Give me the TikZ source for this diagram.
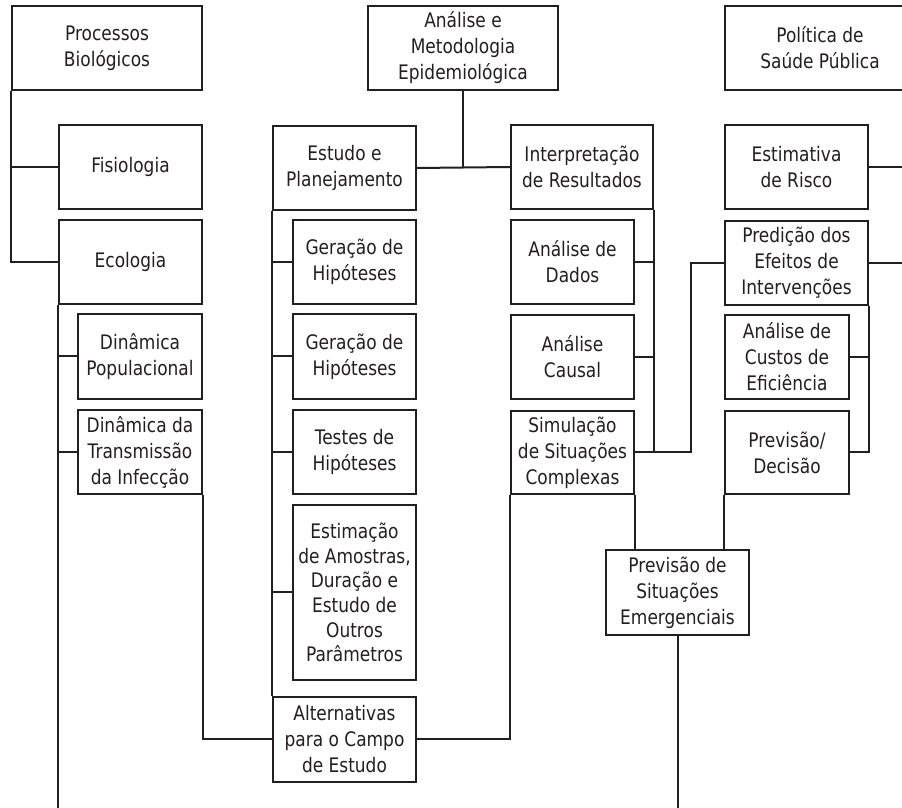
\documentclass[tikz,border=0pt]{standalone}
\usepackage{fontspec}
\setmainfont{DejaVu Sans}[FakeStretch=0.85]
\definecolor{tinta}{HTML}{231F20}
\begin{document}
\begin{tikzpicture}[x=0.5pt,y=-0.5pt,
    caixa/.style 2 args={draw=tinta, line width=1pt, fill=white, text=tinta, align=center,
        inner sep=0pt, minimum width=#1*0.5pt, minimum height=#2*0.5pt,
        font=\fontsize{10}{13}\selectfont},
    liga/.style={draw=tinta, line width=1pt}]
                %%% Page frame (the right column runs off the page)
                \useasboundingbox (0,0) rectangle (902,808);
                \clip (0,0) rectangle (902,808);
                \coordinate (base) at (0,812);
                \coordinate (borda) at (915,0);
                \coordinate (cotovelo) at (691,452.5);
                %%% Processos Biologicos column
                \node[caixa={190}{84}] (proc) at (107,48) {Processos\\Biológicos};
                \node[caixa={143}{84}] (fisio) at (130.5,167) {Fisiologia};
                \node[caixa={143}{84}] (ecol) at (130.5,262) {Ecologia};
                \node[caixa={124}{85}] (dinpop) at (140,356.5) {Dinâmica\\Populacional};
                \node[caixa={124}{84}] (dintrans) at (140,452) {Dinâmica da\\Transmissão\\da Infecção};
                %%% Analise e Metodologia column
                \node[caixa={190}{84}] (anal) at (463,48) {Análise e\\Metodologia\\Epidemiológica};
                \node[caixa={143}{84}] (estudo) at (344.5,168) {Estudo e\\Planejamento};
                \node[caixa={123}{84}] (ger1) at (354.5,262) {Geração de\\Hipóteses};
                \node[caixa={123}{85}] (ger2) at (354.5,356.5) {Geração de\\Hipóteses};
                \node[caixa={123}{84}] (testes) at (354.5,452) {Testes de\\Hipóteses};
                \node[caixa={123}{175}, font=\fontsize{10}{12.3}\selectfont] (estim) at (354.5,592.5) {Estimação\\de Amostras,\\Duração e\\Estudo de\\Outros\\Parâmetros};
                \node[caixa={143}{85}] (alt) at (344.5,739.5) {Alternativas\\para o Campo\\de Estudo};
                \node[caixa={142}{84}] (interp) at (582,167) {Interpretação\\de Resultados};
                \node[caixa={123}{84}] (dados) at (572.5,262) {Análise de\\Dados};
                \node[caixa={123}{84}] (causal) at (572.5,357) {Análise\\Causal};
                \node[caixa={123}{83}] (simul) at (572.5,452.5) {Simulação\\de Situações\\Complexas};
                \node[caixa={143}{85}] (emerg) at (677.5,592.5) {Previsão de\\Situações\\Emergenciais};
                %%% Politica de Saude Publica column
                \node[caixa={190}{84}] (politica) at (820,48) {Política de\\Saúde Pública};
                \node[caixa={143}{84}] (estimativa) at (796.5,167) {Estimativa\\de Risco};
                \node[caixa={143}{84}] (predicao) at (796.5,263) {Predição dos\\Efeitos de\\Intervenções};
                \node[caixa={124}{84}] (custos) at (787,357) {Análise de\\Custos de\\Eficiência};
                \node[caixa={124}{83}] (previsao) at (787,452.5) {Previsão/\\Decisão};
                %%% Lines, left column
                \draw[liga] (proc.south west) |- (ecol.west);
                \draw[liga] (proc.south west |- fisio.west) -- (fisio.west);
                \draw[liga] (ecol.south west) -- (ecol.south west |- base);
                \foreach \n in {dinpop,dintrans}
                    \draw[liga] (ecol.south west |- \n.west) -- (\n.west);
                \draw[liga] (dintrans.south east) |- (alt.west);
                %%% Lines, middle columns
                \draw[liga] (estudo.east) -- (interp.west);
                \draw[liga] (anal.south) -- (anal.south |- estudo.east);
                \draw[liga] (estudo.south west) -- (alt.north west);
                \foreach \n in {ger1,ger2,testes,estim}
                    \draw[liga] (estudo.south west |- \n.west) -- (\n.west);
                \draw[liga] (alt.east) -| (simul.south west);
                \draw[liga] (interp.south east) |- (simul.east);
                \foreach \n in {dados,causal}
                    \draw[liga] (interp.south east |- \n.east) -- (\n.east);
                \draw[liga] (simul.east) -- (cotovelo) |- (predicao.west);
                \draw[liga] (simul.south east) -- (simul.south east |- emerg.north);
                \draw[liga] (previsao.south west) -- (previsao.south west |- emerg.north);
                \draw[liga] (emerg.south) -- (emerg.south |- base);
                %%% Lines, right column
                \draw[liga] (predicao.south east) |- (previsao.east);
                \draw[liga] (predicao.south east |- custos.east) -- (custos.east);
                \draw[liga] (estimativa.east) -- (estimativa.east -| borda);
                \draw[liga] (predicao.east) -- (predicao.east -| borda);
                \end{tikzpicture}
\end{document}
